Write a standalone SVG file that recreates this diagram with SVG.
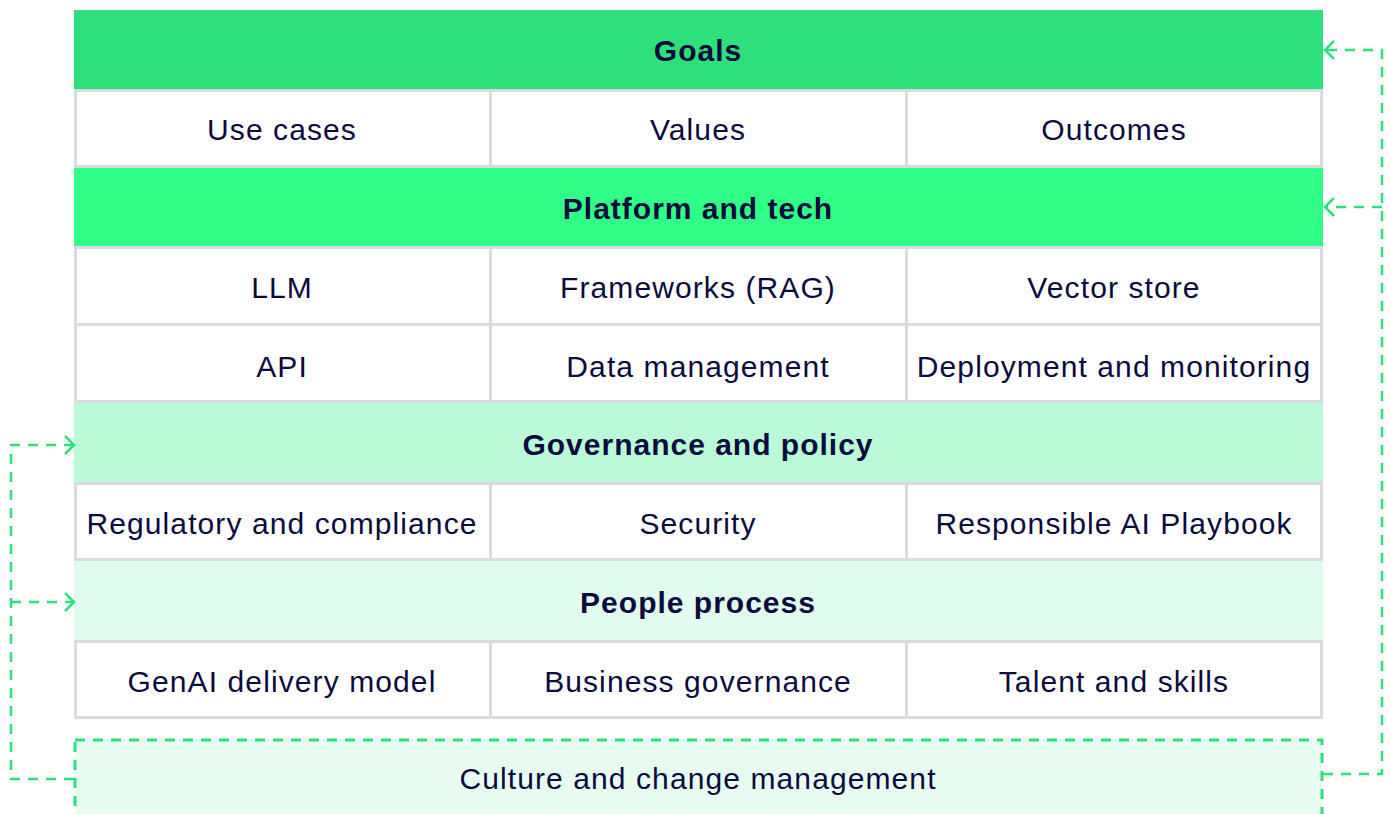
<svg xmlns="http://www.w3.org/2000/svg" width="1390" height="814" viewBox="0 0 1390 814">
  <defs>
    <style>
      text { font-family: "Liberation Sans", Arial, Helvetica, sans-serif; fill: #0b0b3d; text-anchor: middle; font-size: 30px; letter-spacing: 1.1px; }
      .hd { font-weight: bold; letter-spacing: 1px; }
      .cell { fill: #ffffff; stroke: #dadae2; stroke-width: 3; }
      .link { fill: none; stroke: #2de07c; stroke-width: 2.5; stroke-dasharray: 10 8; }
    </style>
    <marker id="chev" markerUnits="userSpaceOnUse" markerWidth="14" markerHeight="22" refX="11" refY="11" orient="auto">
      <path d="M2,2 L11,11 L2,20" fill="none" stroke="#2de07c" stroke-width="2.5"/>
    </marker>
  </defs>

  <rect width="1390" height="814" fill="#ffffff"/>

  <!-- Goals layer -->
  <g id="goals">
    <rect x="74" y="10" width="1249" height="79" fill="#2de07c"/>
    <text class="hd" x="698" y="61">Goals</text>
  </g>
  <g id="use-cases"><rect class="cell" x="75.5" y="90.5" width="415" height="76"/><text x="282" y="140">Use cases</text></g>
  <g id="values"><rect class="cell" x="490.5" y="90.5" width="416" height="76"/><text x="698" y="140">Values</text></g>
  <g id="outcomes"><rect class="cell" x="906.5" y="90.5" width="415" height="76"/><text x="1114" y="140">Outcomes</text></g>

  <!-- Platform and tech layer -->
  <g id="platform">
    <rect x="74" y="168" width="1249" height="78" fill="#2ffd87"/>
    <text class="hd" x="698" y="219">Platform and tech</text>
  </g>
  <g id="llm"><rect class="cell" x="75.5" y="247.5" width="415" height="77"/><text x="282" y="298">LLM</text></g>
  <g id="frameworks"><rect class="cell" x="490.5" y="247.5" width="416" height="77"/><text x="698" y="298">Frameworks (RAG)</text></g>
  <g id="vector-store"><rect class="cell" x="906.5" y="247.5" width="415" height="77"/><text x="1114" y="298">Vector store</text></g>
  <g id="api"><rect class="cell" x="75.5" y="324.5" width="415" height="77"/><text x="282" y="377">API</text></g>
  <g id="data-management"><rect class="cell" x="490.5" y="324.5" width="416" height="77"/><text x="698" y="377">Data management</text></g>
  <g id="deployment"><rect class="cell" x="906.5" y="324.5" width="415" height="77"/><text x="1114" y="377">Deployment and monitoring</text></g>

  <!-- Governance and policy layer -->
  <g id="governance">
    <rect x="74" y="403" width="1249" height="79" fill="#bbfad9"/>
    <text class="hd" x="698" y="455">Governance and policy</text>
  </g>
  <g id="regulatory"><rect class="cell" x="75.5" y="483.5" width="415" height="76"/><text x="282" y="534">Regulatory and compliance</text></g>
  <g id="security"><rect class="cell" x="490.5" y="483.5" width="416" height="76"/><text x="698" y="534">Security</text></g>
  <g id="responsible-ai"><rect class="cell" x="906.5" y="483.5" width="415" height="76"/><text x="1114" y="534">Responsible AI Playbook</text></g>

  <!-- People process layer -->
  <g id="people">
    <rect x="74" y="561" width="1249" height="79" fill="#e0fcee"/>
    <text class="hd" x="698" y="613">People process</text>
  </g>
  <g id="delivery-model"><rect class="cell" x="75.5" y="641.5" width="415" height="76"/><text x="282" y="692">GenAI delivery model</text></g>
  <g id="business-governance"><rect class="cell" x="490.5" y="641.5" width="416" height="76"/><text x="698" y="692">Business governance</text></g>
  <g id="talent"><rect class="cell" x="906.5" y="641.5" width="415" height="76"/><text x="1114" y="692">Talent and skills</text></g>

  <!-- Culture foundation -->
  <g id="culture">
    <rect x="75" y="740" width="1247" height="100" fill="#e7fdf2" stroke="#2de07c" stroke-width="3" stroke-dasharray="10 8"/>
    <text x="698" y="789">Culture and change management</text>
  </g>

  <!-- Feedback connectors -->
  <g id="connectors">
    <path class="link" d="M1323,774 H1382 V50 H1325" marker-end="url(#chev)"/>
    <path class="link" d="M1382,207 H1325" marker-end="url(#chev)"/>
    <path class="link" d="M74,779 H11 V445 H74" marker-end="url(#chev)"/>
    <path class="link" d="M11,602 H74" marker-end="url(#chev)"/>
  </g>
</svg>
